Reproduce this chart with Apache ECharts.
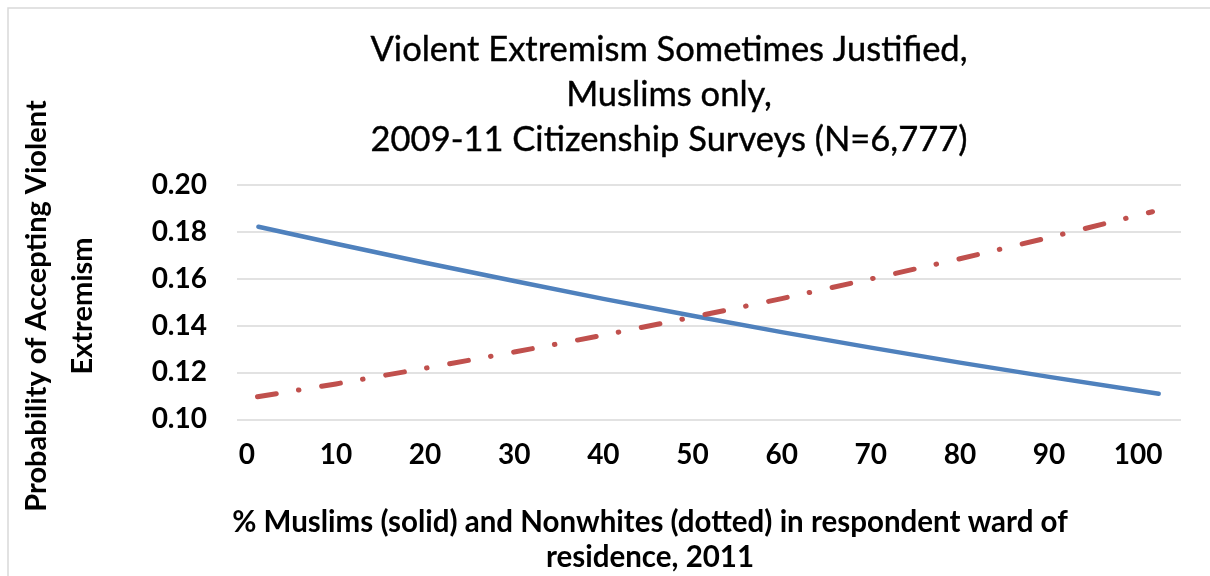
<!DOCTYPE html>
<html>
<head>
<meta charset="utf-8">
<script src="https://cdn.jsdelivr.net/npm/echarts@6/dist/echarts.min.js"></script>
<style>
  html, body { margin: 0; padding: 0; background: #fff; }
  #chart { width: 1210px; height: 576px; }
</style>
</head>
<body>
<div id="chart"></div>
<script>
// Predicted probability of accepting violent extremism by ward composition
const muslimPct   = [1.3, 10, 20, 30, 40, 50, 60, 70, 80, 90, 102.3];
const muslimProb  = [0.1822, 0.1749, 0.1668, 0.1590, 0.1514, 0.1442, 0.1372, 0.1306, 0.1242, 0.1181, 0.1109];
const nonwhitePct  = [1.2, 10, 20, 30, 40, 50, 60, 70, 80, 90, 101.6];
const nonwhiteProb = [0.1096, 0.1151, 0.1218, 0.1287, 0.1359, 0.1436, 0.1515, 0.1599, 0.1685, 0.1776, 0.1886];
const xTicks = [0, 10, 20, 30, 40, 50, 60, 70, 80, 90, 100];

const titleText = 'Violent Extremism Sometimes Justified,\nMuslims only,\n2009-11 Citizenship Surveys (N=6,777)';
const yTitle = 'Probability of Accepting Violent\nExtremism';
const xTitle = '% Muslims (solid) and Nonwhites (dotted) in respondent ward of\nresidence, 2011';

const FONT = 'Lato, "Open Sans", sans-serif';

const pairs = (xs, ys) => xs.map((x, i) => [x, ys[i]]);

const chart = echarts.init(document.getElementById('chart'), null, { renderer: 'canvas' });

chart.setOption({
  backgroundColor: '#ffffff',
  animation: false,
  grid: { left: 237, right: 29, top: 185, bottom: 576 - 419.3, containLabel: false },
  xAxis: {
    type: 'value',
    min: -1.1,
    max: 104.8,
    axisLine: { show: false },
    axisTick: { show: false },
    splitLine: { show: false },
    axisLabel: {
      customValues: xTicks,
      margin: 22,
      fontFamily: FONT,
      fontWeight: 'bold',
      fontSize: 28,
      color: '#000'
    }
  },
  yAxis: {
    type: 'value',
    min: 0.10,
    max: 0.20,
    interval: 0.02,
    axisLine: { show: false },
    axisTick: { show: false },
    splitLine: { lineStyle: { color: '#d9d9d9', width: 1.5 } },
    axisLabel: {
      margin: 30,
      fontFamily: FONT,
      fontWeight: 'bold',
      fontSize: 28,
      color: '#000',
      formatter: v => v.toFixed(2)
    }
  },
  series: [
    {
      name: 'Muslims',
      type: 'line',
      showSymbol: false,
      data: pairs(muslimPct, muslimProb),
      lineStyle: { color: '#4f81bd', width: 4.5, cap: 'round', join: 'round' }
    },
    {
      name: 'Nonwhites',
      type: 'line',
      showSymbol: false,
      data: pairs(nonwhitePct, nonwhiteProb),
      lineStyle: {
        color: '#c0504d', width: 5, cap: 'round', join: 'round',
        type: [19, 22.5, 0.5, 23], dashOffset: 0
      }
    }
  ],
  graphic: [
    {
      type: 'rect', silent: true, z: -1,
      shape: { x: 8, y: 8, width: 1400, height: 800 },
      style: { fill: null, stroke: '#d9d9d9', lineWidth: 1.5 }
    },
    {
      type: 'text', x: 669, y: 95,
      style: {
        text: titleText, fontFamily: FONT, fontSize: 34.5, lineHeight: 45,
        fill: '#000', align: 'center', verticalAlign: 'middle',
        stroke: '#000', lineWidth: 0.4
      }
    },
    {
      type: 'text', x: 60, y: 306, rotation: Math.PI / 2,
      style: {
        text: yTitle, fontFamily: FONT, fontWeight: 'bold', fontSize: 29, lineHeight: 46,
        fill: '#000', align: 'center', verticalAlign: 'middle'
      }
    },
    {
      type: 'text', x: 650, y: 539.5,
      style: {
        text: xTitle, fontFamily: FONT, fontWeight: 'bold', fontSize: 29.5, lineHeight: 35,
        fill: '#000', align: 'center', verticalAlign: 'middle'
      }
    }
  ]
});
</script>
</body>
</html>
